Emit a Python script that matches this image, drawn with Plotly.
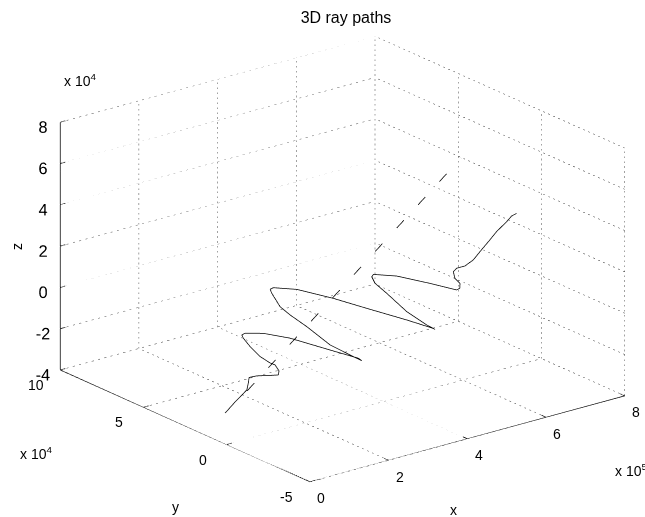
import plotly.graph_objects as go

# Ray path (solid) and reference line (dashed), coordinates in metres
ray_x = [82400, 101700, 124700, 126300, 126300, 143300, 168800, 192000, 192400, 181500, 169600,
         145100, 119400, 101700, 97100, 104100, 145600, 207700, 301900, 368500, 376900,
         356700, 300400, 242100, 200800, 175600, 152900, 147800, 154800, 208400, 294100,
         372800, 467000, 526700, 533900, 513800, 464500, 413700, 384200, 374800, 377700,
         431300, 509000, 571500, 578500, 577000, 564200, 558400, 565100, 583200, 600300,
         613000, 632200, 645000, 664700, 674400, 684900]
ray_y = [20500, 19000, 17400, 16900, 16400, 15800, 15100, 14400, 14100, 13900, 14100,
         14300, 14200, 14100, 13900, 13600, 12400, 11100, 9300, 8100, 8000,
         8300, 9000, 9200, 9400, 9500, 9100, 8900, 8600, 7200, 5500,
         4000, 2300, 1200, 1100, 1400, 1700, 1700, 1800, 1500, 1200,
         -100, -1800, -3000, -3300, -3700, -3700, -4100, -4500, -5200, -6200,
         -7200, -8600, -9600, -11000, -11700, -12200]
ray_z = [-36500, -31500, -26300, -22800, -20000, -19900, -20800, -21500, -19400, -15900, -14400,
         -10100, -3900, 1100, 3000, 3600, 1800, -3300, -13300, -20300, -21900,
         -19000, -10600, 1200, 8900, 14200, 22000, 24300, 24800, 21700, 13500,
         5100, -4800, -11400, -12400, -9300, -400, 11100, 17500, 21200, 22300,
         19200, 12200, 6200, 6800, 9400, 12500, 16100, 17600, 18000, 20400,
         24100, 29300, 33000, 37300, 39800, 40700]
ref_x = [125700, 542200]
ref_y = [17500, -12500]
ref_z = [-26900, 75000]

# Axis limits and tick values
x_ticks = [0, 2e5, 4e5, 6e5, 8e5]
y_ticks = [-5e4, 0, 5e4, 10e4]
z_ticks = [-4e4, -2e4, 0, 2e4, 4e4, 6e4, 8e4]
x_labels = ['0', '2', '4', '6', '8']
y_labels = ['-5', '0', '5', '10']
z_labels = ['-4', '-2', '0', '2', '4', '6', '8']

FONT = 'Liberation Sans'

fig = go.Figure()

x0, x1 = x_ticks[0], x_ticks[-1]
y0, y1 = y_ticks[0], y_ticks[-1]
z0, z1 = z_ticks[0], z_ticks[-1]

# dotted grid on the two back walls and the floor (one trace per line so the
# dash pattern keeps a similar spacing on every line)
grid = []
for v in x_ticks:
    grid += [((v, y1, z0), (v, y1, z1)), ((v, y0, z0), (v, y1, z0))]
for v in y_ticks:
    grid += [((x1, v, z0), (x1, v, z1)), ((x0, v, z0), (x1, v, z0))]
for v in z_ticks:
    grid += [((x0, y1, v), (x1, y1, v)), ((x1, y0, v), (x1, y1, v))]
for a, b in grid:
    fig.add_trace(go.Scatter3d(x=[a[0], b[0]], y=[a[1], b[1]], z=[a[2], b[2]], mode='lines',
                               line=dict(color='#444444', width=1, dash='dash'),
                               hoverinfo='skip'))

# solid axis lines with short inward tick marks
tx = (x1 - x0) * 0.016
ty = (y1 - y0) * 0.018
ax_x = [x0, x1, None, x0, x0, None, x0, x0, None]
ax_y = [y0, y0, None, y0, y1, None, y1, y1, None]
ax_z = [z0, z0, None, z0, z0, None, z0, z1, None]
for v in x_ticks:
    ax_x += [v, v, None]; ax_y += [y0, y0 + ty, None]; ax_z += [z0, z0, None]
for v in y_ticks:
    ax_x += [x0, x0 + tx, None]; ax_y += [v, v, None]; ax_z += [z0, z0, None]
for v in z_ticks:
    ax_x += [x0, x0 + tx, None]; ax_y += [y1, y1, None]; ax_z += [v, v, None]
fig.add_trace(go.Scatter3d(x=ax_x, y=ax_y, z=ax_z, mode='lines',
                           line=dict(color='black', width=1.5), hoverinfo='skip'))

fig.add_trace(go.Scatter3d(x=ray_x, y=ray_y, z=ray_z, mode='lines',
                           line=dict(color='black', width=1.5)))
fig.add_trace(go.Scatter3d(x=ref_x, y=ref_y, z=ref_z, mode='lines',
                           line=dict(color='black', width=1.5, dash='longdash')))

def axis(vals, labels, show):
    return dict(range=[vals[0], vals[-1]], tickvals=vals, ticktext=labels, tickangle=0,
                showticklabels=show, showgrid=False, zeroline=False, showbackground=False,
                showline=False, showspikes=False, ticks='outside', ticklen=4,
                tickcolor='rgba(0,0,0,0)', title=dict(text=''),
                tickfont=dict(family=FONT, size=14, color='black'))

def note(text, x, y, angle=0, xanchor='center'):
    return dict(text=text, x=x / 645, y=1 - y / 517, xref='paper', yref='paper',
                xanchor=xanchor, yanchor='middle', showarrow=False, textangle=angle,
                font=dict(family=FONT, size=14, color='black'))

notes = [
    note('x 10<sup>4</sup>', 62, 80, xanchor='left'),
    note('x 10<sup>4</sup>', 18, 453, xanchor='left'),
    note('x 10<sup>5</sup>', 613, 470, xanchor='left'),
    note('x', 453, 510),
    note('y', 175, 507),
    note('z', 17, 247, angle=-90),
]
# x and y tick labels set below the front edges of the floor
for v, t in zip(x_ticks, x_labels):
    f = (v - x0) / (x1 - x0)
    notes.append(note(t, 321 + 315 * f, 498 - 86 * f))
for v, t in zip(y_ticks, y_labels):
    f = (v - y0) / (y1 - y0)
    notes.append(note(t, 286 - 250 * f, 497 - 112 * f))

cx, cy = -0.061, 0.048
fig.update_layout(
    width=645, height=517, margin=dict(l=0, r=0, t=0, b=0), showlegend=False,
    paper_bgcolor='white',
    title=dict(text='3D ray paths', x=346 / 645, xanchor='center', y=1 - 17 / 517,
               yanchor='middle', font=dict(family=FONT, size=16, color='black')),
    scene=dict(domain=dict(x=[0.0, 1.0], y=[0.0, 0.998]),
               xaxis=axis(x_ticks, x_labels, False), yaxis=axis(y_ticks, y_labels, False),
               zaxis=axis(z_ticks, z_labels, True),
               aspectmode='manual', aspectratio=dict(x=1.548, y=1.573, z=1.025),
               camera=dict(eye=dict(x=cx - 1.153, y=cy - 1.476, z=0.699),
                           up=dict(x=0, y=0, z=1),
                           center=dict(x=cx, y=cy, z=0),
                           projection=dict(type='orthographic'))),
    annotations=notes,
)
fig.write_html("out.html")
